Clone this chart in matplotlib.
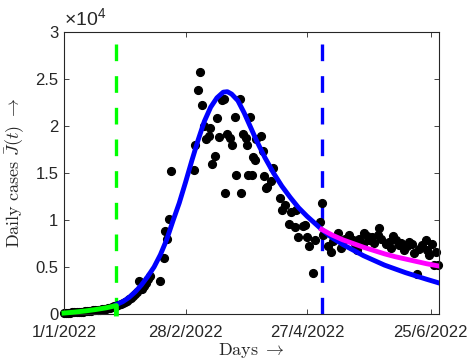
import matplotlib
matplotlib.use("Agg")
import matplotlib.pyplot as plt
import numpy as np

plt.rcParams['font.family'] = ['Liberation Sans', 'DejaVu Sans']
plt.rcParams['mathtext.fontset'] = 'cm'
plt.rcParams['mathtext.rm'] = 'Liberation Sans'
plt.rcParams['mathtext.it'] = 'Liberation Sans:italic'

# ---------------- data (days since 1/1/2022, daily cases) ----------------
obs_days = [0, 1, 2, 3, 4, 5, 6, 7, 8, 9, 10, 11, 12, 13, 14, 15, 16, 17, 18, 19, 20, 21, 22, 23, 24,
            25, 26, 27, 28, 29, 30, 31, 32, 33, 34, 35, 35.9, 37, 38, 39, 40, 41,
            46, 47.6, 48, 49, 50, 51.3,
            62, 62.4, 64, 64.8, 66, 67, 68, 69, 69.8, 70.8, 72, 73, 74, 75.4, 76.3, 77, 78, 79, 80,
            81.4, 82, 83.8, 84.3, 85.4, 86.7, 87.5, 88, 88.6, 89.5, 90.3, 91, 91.7, 93.8, 95, 95.7,
            96.5, 97, 99, 100, 103, 104, 105.5, 107.6, 108.5, 110.8, 110.5, 111.6, 114, 115, 116,
            117, 119, 120, 122, 123,
            123.5, 126, 127.5, 128.5, 130.6, 132, 134, 136, 137.8, 139, 140, 141, 142.5, 143,
            144.5, 145.7, 147, 148, 149.7, 150.5, 151.5, 153.7, 155, 156, 157, 158.4, 160, 161,
            162.4, 163.5, 164.8, 166, 167, 168.7, 169.5, 171, 172.7, 173.5, 174.3, 175.5, 176.7,
            177.5, 178.3]
obs_cases = [100, 120, 110, 150, 160, 180, 200, 190, 230, 260, 280, 300, 320, 350, 380, 400, 430,
             470, 500, 540, 580, 630, 680, 740, 800,
             850, 950, 1050, 1150, 1300, 1400, 1550, 1700, 1900, 2100, 2300, 3500, 2700, 3000,
             3300, 3700, 4000,
             3500, 6000, 8800, 8000, 10100, 15200,
             15300, 18000, 23800, 25700, 22200, 20000, 18600, 18900, 19800, 16000, 16800, 20800,
             18800, 22800, 22900, 12900, 19100, 18700, 18000,
             21000, 14800, 22900, 12900, 19100, 18700, 18000, 14800, 21000, 14800, 16700, 16400,
             18600, 18900, 17300, 14700,
             13400, 13500, 14100, 15500, 12300, 11100, 11600, 9600, 10800, 11100, 9300, 8200,
             9400, 9500, 8200,
             7200, 4400, 7900, 9800, 11800,
             8400, 7200, 6600, 7800, 8600, 7000, 8000, 8400, 7900, 7400, 6800, 8000, 7500, 8600,
             8300, 7900, 8200, 7600, 8400, 9100, 8000, 7500, 7700, 7000, 8300, 7900, 7300, 7600,
             6800, 7200, 7700, 7400, 6500, 4300, 6900, 7300, 7900, 6800, 6300, 7400, 5200,
             6600, 5200]

# fitted curve, first wave (green) up to the first change point
fit1_days = [0, 5, 10, 15, 20, 25, 25]
fit1_cases = [100, 200, 320, 470, 650, 900, 0]

# fitted curve (blue)
fit2_days = [25, 28, 31, 34, 37, 40, 43, 46, 49, 52, 55, 58, 61, 64, 67, 70, 73, 76, 78, 80,
             83, 86, 89, 92, 96, 100, 104, 108, 112, 116, 120, 123, 128, 133, 138, 143, 148,
             153, 158, 163, 168, 173, 179]
fit2_cases = [1000, 1300, 1750, 2350, 3100, 4000, 5000, 6300, 7900, 9900, 11800, 14000, 16300,
              18500, 20500, 22000, 23000, 23600, 23650, 23400, 22700, 21400, 19900, 18400, 16600,
              15000, 13600, 12400, 11300, 10400, 9600, 9000, 8100, 7400, 6800, 6200, 5700, 5200,
              4800, 4400, 4050, 3700, 3300]

# refit after second change point (magenta)
fit3_days = [123, 128, 133, 138, 143, 148, 153, 158, 163, 168, 173, 179]
fit3_cases = [9000, 8400, 7900, 7500, 7100, 6750, 6400, 6100, 5850, 5600, 5350, 5100]

change_points = [25, 123]
xtick_days = [0, 58, 116, 175]
xtick_labels = ['1/1/2022', '28/2/2022', '27/4/2022', '25/6/2022']
ytick_vals = [0, 5000, 10000, 15000, 20000, 25000, 30000]
ytick_labels = ['0', '0.5', '1', '1.5', '2', '2.5', '3']

# ---------------- figure ----------------
fig = plt.figure(figsize=(4.71, 3.64), dpi=100)
ax = fig.add_axes([64 / 471, 50 / 364, (439 - 64) / 471, (314 - 32) / 364])

dash = (0, (5, 4.5))
ax.axvline(change_points[0], color='#00FF00', lw=2.4, linestyle=dash, zorder=1)
ax.axvline(change_points[1], color='#0000FF', lw=2.4, linestyle=dash, zorder=1)

ax.plot(obs_days, obs_cases, 'o', color='black', markersize=5.6, zorder=2, clip_on=False)
ax.plot(fit2_days, fit2_cases, '-', color='#0000FF', lw=3.5, zorder=3)
ax.plot(fit3_days, fit3_cases, '-', color='#FF00FF', lw=3.5, zorder=4)
ax.plot(fit1_days, fit1_cases, '-', color='#00FF00', lw=3.5, zorder=5, clip_on=False)

ax.set_xlim(0, 179)
ax.set_ylim(0, 30000)
ax.set_xticks(xtick_days)
ax.set_xticklabels(xtick_labels)
ax.set_yticks(ytick_vals)
ax.set_yticklabels(ytick_labels)

gray = '#262626'
for s in ax.spines.values():
    s.set_color(gray)
    s.set_linewidth(0.8)
ax.tick_params(direction='in', top=True, right=True, length=3.5, width=0.6,
               colors=gray, labelsize=12, pad=4)
ax.tick_params(axis='x', pad=8)

ax.set_xlabel(r'$\mathrm{Days}\ \rightarrow$', fontsize=13, labelpad=1, color=gray)
ax.set_ylabel(r'$\mathrm{Daily\ cases}\ \bar{J}(t)\ \rightarrow$', fontsize=13, labelpad=6,
              color=gray)

ax.text(0.0, 1.01, r'$\times\mathrm{10}^{4}$', transform=ax.transAxes, ha='left',
        va='bottom', fontsize=14, color=gray, math_fontfamily='custom')

fig.savefig('out.png', dpi=100)
